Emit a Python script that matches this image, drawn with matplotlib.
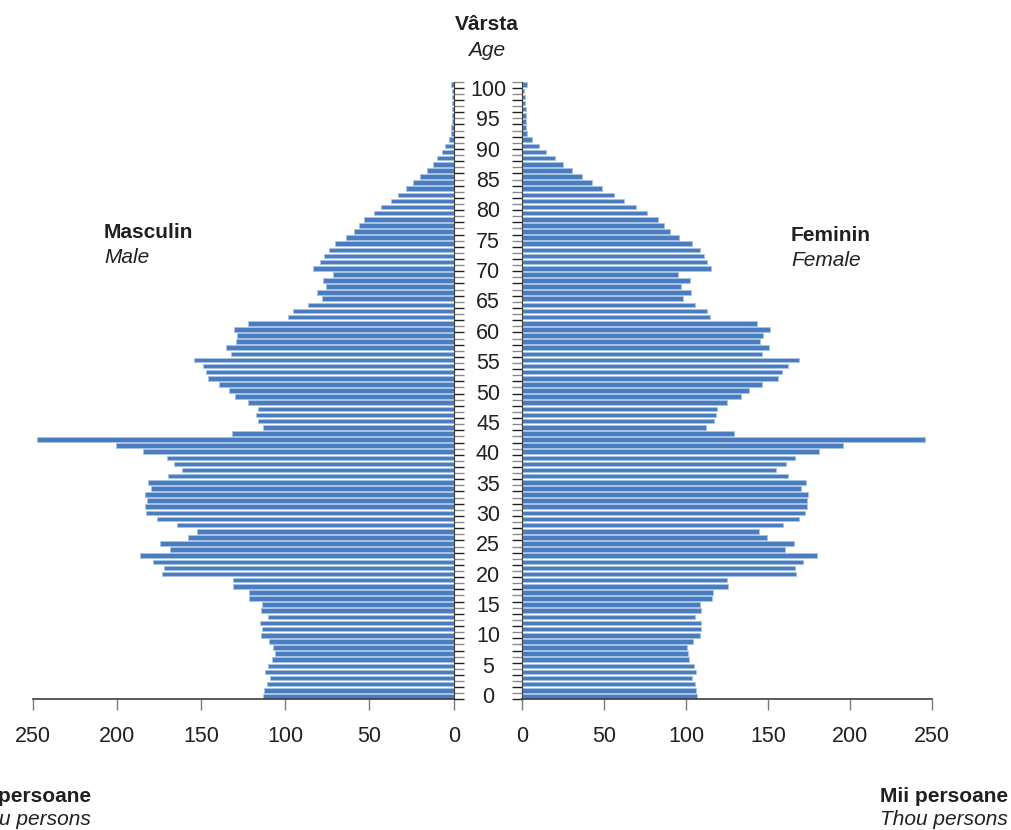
import numpy as np
import matplotlib
matplotlib.use("Agg")
import matplotlib.pyplot as plt

plt.rcParams['font.family'] = ['Liberation Sans', 'DejaVu Sans']

# ages 0..100, thousands of persons
ages = np.arange(0, 101)
male = [113.0, 112.4, 110.6, 109.1, 112.2, 110.5, 107.9, 106.3, 107.3, 109.7,
        114.6, 114.0, 114.8, 110.3, 114.6, 114.0, 121.3, 121.3, 131.2, 131.0,
        173.2, 171.8, 178.5, 186.3, 168.3, 174.2, 157.8, 152.6, 164.5, 176.4,
        182.7, 183.3, 182.3, 183.3, 179.7, 181.5, 169.6, 161.3, 165.9, 170.2,
        184.7, 200.7, 247.4, 131.4, 113.0, 116.4, 117.6, 116.4, 122.1, 129.7,
        133.6, 139.4, 145.7, 147.1, 148.9, 154.2, 132.0, 135.0, 129.3, 128.7,
        130.6, 122.3, 98.4, 95.2, 86.7, 78.4, 81.2, 76.0, 77.8, 71.7,
        83.7, 79.4, 77.0, 74.0, 70.5, 63.7, 59.2, 56.4, 53.4, 47.3,
        43.2, 37.4, 33.3, 28.1, 24.0, 20.0, 15.8, 12.3, 9.9, 6.9,
        4.9, 3.0, 1.4, 1.4, 1.2, 1.2, 1.0, 0.8, 0.8, 0.8, 1.4]
female = [106.4, 106.0, 105.2, 103.8, 106.2, 104.8, 102.0, 101.3, 100.5, 104.2,
          108.7, 108.9, 108.9, 105.4, 109.1, 108.5, 115.8, 116.4, 125.6, 124.7,
          166.9, 166.7, 171.3, 179.9, 160.6, 165.9, 149.2, 144.7, 159.3, 168.9,
          172.6, 173.8, 173.8, 174.2, 170.1, 173.2, 162.2, 155.1, 161.0, 166.3,
          181.1, 195.8, 245.8, 129.0, 111.9, 117.2, 118.4, 119.0, 125.2, 133.5,
          138.6, 146.3, 155.9, 158.5, 162.0, 168.9, 146.5, 150.8, 145.3, 146.7,
          151.0, 143.1, 114.6, 112.5, 105.2, 97.9, 102.8, 96.7, 102.4, 95.2,
          115.4, 112.7, 110.7, 108.3, 103.4, 95.4, 89.9, 86.7, 82.8, 75.9,
          69.6, 61.9, 55.8, 48.6, 42.3, 36.2, 30.1, 24.6, 19.7, 14.4,
          10.0, 5.9, 2.8, 2.4, 2.4, 2.2, 2.0, 1.6, 1.4, 1.2, 2.6]
x_ticks = [0, 50, 100, 150, 200, 250]
age_labels = list(range(0, 101, 5))

BAR = '#4a7dc0'
EDGE = '#a9c3e6'
AXC = '#3d3d3d'
TXT = '#231f20'

fig = plt.figure(figsize=(10.12, 8.30), dpi=100)
W, H = 1012, 830

bottom = 1 - 699.45 / H
height = (699.45 - 81.64) / H
ax_m = fig.add_axes([32.7 / W, bottom, (453.7 - 32.7) / W, height])
ax_f = fig.add_axes([522.3 / W, bottom, (931.7 - 522.3) / W, height])

ax_m.barh(ages, male, height=0.75, color=BAR, edgecolor=EDGE, linewidth=0.6)
ax_f.barh(ages, female, height=0.75, color=BAR, edgecolor=EDGE, linewidth=0.6)

ax_m.set_xlim(250, 0)
ax_m.spines['left'].set_visible(False)
ax_m.spines['right'].set_color(AXC)
ax_m.yaxis.set_ticks_position('right')

ax_f.set_xlim(0, 250)
ax_f.spines['right'].set_visible(False)
ax_f.spines['left'].set_color(AXC)
ax_f.yaxis.set_ticks_position('left')

for ax in (ax_m, ax_f):
    ax.set_ylim(-0.45, 100.5)
    ax.set_xticks(x_ticks)
    ax.set_xticklabels([str(v) for v in x_ticks])
    ax.tick_params(axis='x', direction='out', length=8, width=1.0,
                   color='#7a7a7a', labelsize=15.5, labelcolor=TXT, pad=11)
    ax.set_yticks(np.arange(-0.5, 101, 2))
    ax.set_yticks(np.arange(0.5, 101, 2), minor=True)
    ax.tick_params(axis='y', which='major', direction='out', length=7.5,
                   width=1.0, color='#222222')
    ax.tick_params(axis='y', which='minor', direction='out', length=7.5,
                   width=1.0, color='#8a8a8a')
    ax.tick_params(axis='y', which='both', labelleft=False, labelright=False)
    ax.spines['top'].set_visible(False)
    ax.spines['bottom'].set_color(AXC)
    ax.spines['bottom'].set_linewidth(1.2)

# age labels in the middle
lab_bottom = 1 - 697.7 / H
lab_height = (697.7 - 90.3) / H
ax_lab = fig.add_axes([470 / W, lab_bottom, 36 / W, lab_height])
ax_lab.set_ylim(0, 100)
ax_lab.set_xlim(0, 1)
ax_lab.axis('off')
for a in age_labels:
    ax_lab.text(0.5, a, str(a), ha='center', va='center', fontsize=15.5, color=TXT)

def ftxt(x, y, s, **kw):
    fig.text(x / W, 1 - y / H, s, fontsize=15, color=TXT, va='baseline', **kw)

ftxt(487, 30.5, 'Vârsta', ha='center', fontweight='bold')
ftxt(487, 55.5, 'Age', ha='center', style='italic')
ftxt(104, 238.3, 'Masculin', ha='left', fontweight='bold')
ftxt(104, 263, 'Male', ha='left', style='italic')
ftxt(791, 240.7, 'Feminin', ha='left', fontweight='bold')
ftxt(791, 266.5, 'Female', ha='left', style='italic')
# the left unit label runs past the figure edge, as in the source
ftxt(91, 802, 'Mii persoane', ha='right', fontweight='bold')
ftxt(91, 825, 'Thou persons', ha='right', style='italic')
ftxt(1008, 802, 'Mii persoane', ha='right', fontweight='bold')
ftxt(1008, 825, 'Thou persons', ha='right', style='italic')

fig.savefig('out.png', dpi=100)
